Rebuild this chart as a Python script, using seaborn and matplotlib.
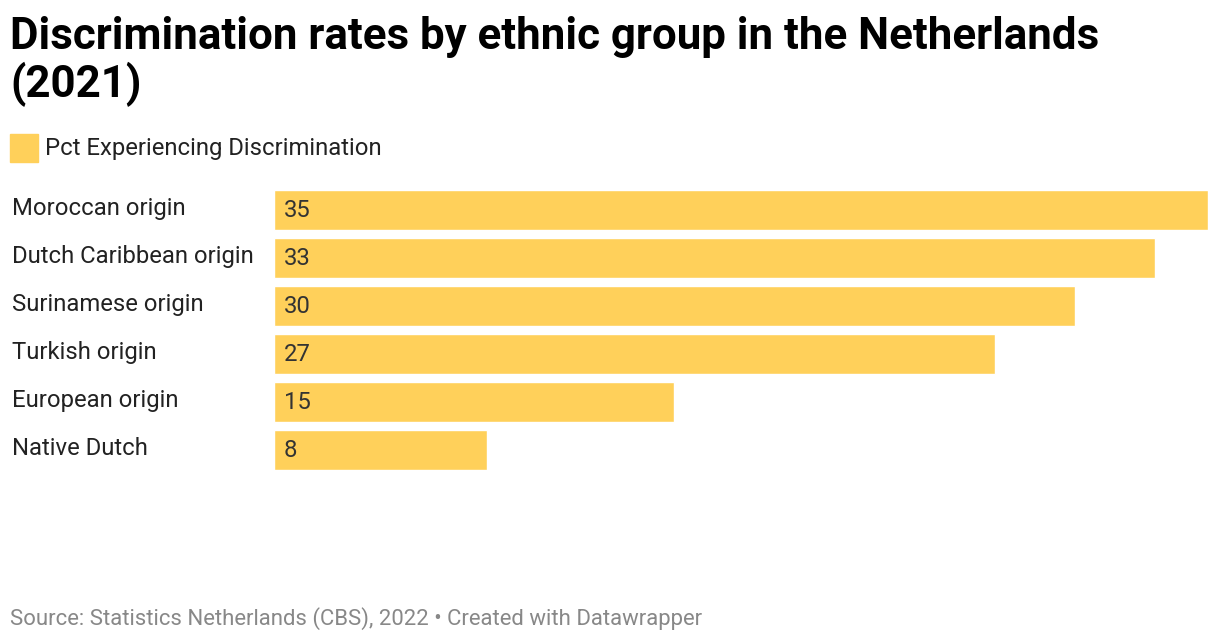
import matplotlib
matplotlib.use("Agg")
import matplotlib.pyplot as plt
from matplotlib.patches import Rectangle
import pandas as pd
import seaborn as sns

groups = [
    "Moroccan origin",
    "Dutch Caribbean origin",
    "Surinamese origin",
    "Turkish origin",
    "European origin",
    "Native Dutch",
]
pct = [35, 33, 30, 27, 15, 8]
series_name = "Pct Experiencing Discrimination"
title = "Discrimination rates by ethnic group in the Netherlands\n(2021)"
source = "Source: Statistics Netherlands (CBS), 2022 \u2022 Created with Datawrapper"

BAR = "#ffd05a"
W, H = 1220, 642

sns.set_theme(style="white")
plt.rcParams["font.family"] = ["Roboto", "DejaVu Sans"]

df = pd.DataFrame({"group": groups, "pct": pct})

fig = plt.figure(figsize=(W / 100, H / 100), dpi=100)
ax = fig.add_axes([274 / W, 1 - 470 / H, 934 / W, 280 / H])

bw = 40 / 48
sns.barplot(data=df, y="group", x="pct", orient="h", color=BAR,
            saturation=1, width=bw, ax=ax)
ax.set_xlim(0, 35)
ax.set_ylim(len(groups) - 1 + bw / 2, -bw / 2)
ax.axis("off")

for i, (g, v) in enumerate(zip(groups, pct)):
    ax.text(10 / 934 * 35, i + 0.02, str(v), va="center", ha="left",
            fontsize=17.2, color="#333333")
    ax.text(-262 / 934 * 35, i - 0.03, g, va="center", ha="left",
            fontsize=17.2, color="#222222", clip_on=False)

fig.text(10 / W, 1 - 16 / H, title, ha="left", va="top", fontsize=31.6,
         fontweight="bold", color="#000000", linespacing=1.12)

fig.patches.append(Rectangle((10 / W, 1 - 162 / H), 28 / W, 28 / H,
                             transform=fig.transFigure, color=BAR))
fig.text(45 / W, 1 - 148 / H, series_name, ha="left", va="center",
         fontsize=17.2, color="#222222")

fig.text(10 / W, 1 - 619 / H, source, ha="left", va="center",
         fontsize=15.9, color="#888888")

fig.savefig("out.png", dpi=100, facecolor="white")
